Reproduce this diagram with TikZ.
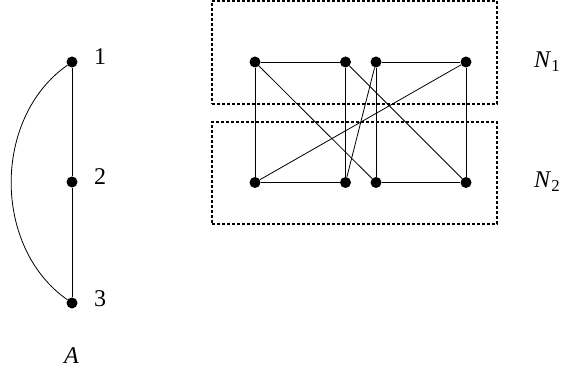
\documentclass[tikz,border=0pt]{standalone}
\usepackage{fontspec}
\setmainfont{Liberation Serif}
\tikzset{
  vert/.style={circle,fill=black,inner sep=0pt,minimum size=11pt},
  lbl/.style={inner sep=0pt,anchor=base west},
  part/.style={draw,dash pattern=on 3pt off 2pt,line width=1.1pt,inner sep=0pt}
}
\begin{document}
\begin{tikzpicture}[x=1pt,y=1pt]
\useasboundingbox (0,0) rectangle (573,378);
% graph A
\node[vert] (v1) at (72,316) {};
\node[vert] (v2) at (72,196) {};
\node[vert] (v3) at (72,75) {};
\node[lbl] (l1) at (94,313) {\fontsize{24pt}{29pt}\selectfont 1};
\node[lbl] (l2) at (94,193) {\fontsize{24pt}{29pt}\selectfont 2};
\node[lbl] (l3) at (94,72) {\fontsize{24pt}{29pt}\selectfont 3};
\node[lbl] (nameA) at (64,15) {\fontsize{24pt}{29pt}\selectfont\itshape A};
\path[line width=0.8pt] (v1) edge (v2)
  (v2) edge (v3)
  (v1) edge[bend right=55] (v3);

% partitions
\node[part,minimum width=285pt,minimum height=103pt] (box1) at (354.5,325.5) {};
\node[part,minimum width=285pt,minimum height=102pt] (box2) at (354.5,205) {};
\node[lbl] (n1) at (534,310) {\fontsize{24pt}{29pt}\selectfont\textit{N}\textsubscript{1}};
\node[lbl] (n2) at (534,190) {\fontsize{24pt}{29pt}\selectfont\textit{N}\textsubscript{2}};

% graph on the right
\node[vert] (a1) at (255,316) {};
\node[vert] (a2) at (345.5,316) {};
\node[vert] (a3) at (376,316) {};
\node[vert] (a4) at (466,316) {};
\node[vert] (b1) at (255,195.5) {};
\node[vert] (b2) at (345.5,195.5) {};
\node[vert] (b3) at (376,195.5) {};
\node[vert] (b4) at (466,195.5) {};
\path[line width=0.8pt] (a1) edge (a2)
  (a3) edge (a4)
  (b1) edge (b2)
  (b3) edge (b4)
  (a1) edge (b1)
  (a2) edge (b2)
  (a3) edge (b3)
  (a4) edge (b4)
  (a1) edge (b3)
  (a2) edge (b4)
  (a3) edge (b2)
  (a4) edge (b1);
\end{tikzpicture}
\end{document}
